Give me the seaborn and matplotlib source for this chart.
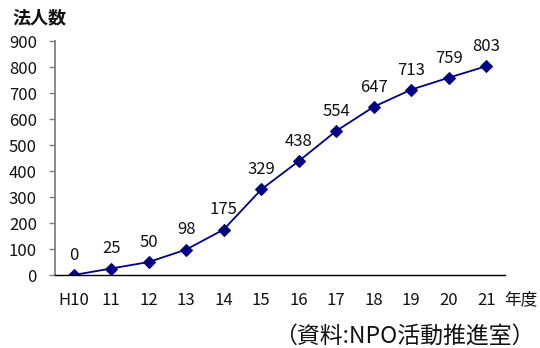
import matplotlib
matplotlib.use("Agg")
import matplotlib.pyplot as plt
import seaborn as sns
import numpy as np
import pandas as pd

# Number of certified NPO corporations by fiscal year
years = ["H10", "11", "12", "13", "14", "15", "16", "17", "18", "19", "20", "21"]
counts = [0, 25, 50, 98, 175, 329, 438, 554, 647, 713, 759, 803]
y_ticks = [0, 100, 200, 300, 400, 500, 600, 700, 800, 900]

sns.set_theme(style="white")
plt.rcParams["font.family"] = ["Noto Sans CJK JP", "DejaVu Sans"]

W, H = 540, 348
fig = plt.figure(figsize=(W / 100, H / 100), dpi=100)
ax = fig.add_axes([55 / W, (H - 275) / H, (505 - 55) / W, (275 - 41) / H])

df = pd.DataFrame({"pos": np.arange(len(years)), "count": counts})
navy = "#000080"
sns.lineplot(data=df, x="pos", y="count", ax=ax, color=navy, linewidth=1.3,
             marker="D", markersize=6, markeredgecolor=navy, markerfacecolor=navy)

for x, v in zip(df["pos"], df["count"]):
    ax.annotate(str(v), (x, v), xytext=(0, 8), textcoords="offset points",
                ha="center", va="bottom", fontsize=12, color="#111111")

ax.set_xlim(-0.5, len(years) - 0.5)
ax.set_ylim(0, 900)
ax.set_yticks(y_ticks)
ax.set_yticklabels([str(t) for t in y_ticks], fontsize=12, color="#111111")
ax.set_xticks(np.arange(len(years)))
ax.set_xticklabels(years, fontsize=12, color="#111111")
ax.set_xticks(np.arange(len(years) + 1) - 0.5, minor=True)
ax.tick_params(axis="x", which="major", length=0, pad=12)
ax.tick_params(axis="x", which="minor", direction="in", length=6, width=1, color="black")
ax.tick_params(axis="y", which="major", direction="out", length=4, width=1,
               color="#808080", pad=9, left=True)
ax.set_xlabel("")
ax.set_ylabel("")

for s in ["top", "right"]:
    ax.spines[s].set_visible(False)
ax.spines["left"].set_color("#808080")
ax.spines["left"].set_linewidth(1.3)
ax.spines["bottom"].set_color("black")
ax.spines["bottom"].set_linewidth(1.0)

fig.text(12 / W, 1 - 18 / H, "法人数", fontsize=13, fontweight="bold",
         ha="left", va="center", color="#111111")
fig.text(504 / W, 1 - 300 / H, "年度", fontsize=12, ha="left", va="center",
         color="#111111")
fig.text(535 / W, 1 - 336 / H, "（資料:NPO活動推進室）", fontsize=16.5,
         ha="right", va="center", color="#111111")

fig.savefig("out.png", dpi=100, facecolor="white")
